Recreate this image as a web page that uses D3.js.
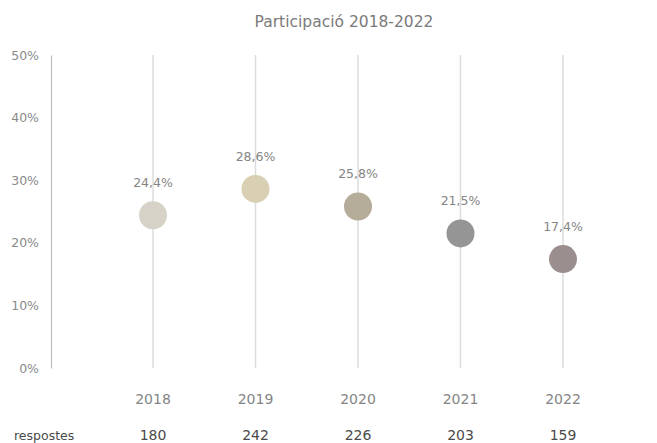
<!DOCTYPE html>
<html>
<head>
<meta charset="utf-8">
<script src="https://cdn.jsdelivr.net/npm/d3@7"></script>
<style>
  html, body { margin: 0; padding: 0; background: #fff; }
  svg { display: block; font-family: "DejaVu Sans", sans-serif; }
</style>
</head>
<body>
<svg id="chart" width="657" height="443"></svg>
<script>
const years = ["2018", "2019", "2020", "2021", "2022"];
const values = [24.4, 28.6, 25.8, 21.5, 17.4];
const labels = ["24,4%", "28,6%", "25,8%", "21,5%", "17,4%"];
const responses = [180, 242, 226, 203, 159];
const yTicks = [0, 10, 20, 30, 40, 50];
const colors = ["#d6d2c8", "#d9d0b4", "#b5ad9a", "#959595", "#9a8e8e"];

const svg = d3.select("#chart");
const FONT = "'DejaVu Sans', sans-serif";
const yTop = 55, yBot = 368;

const x = d3.scalePoint().domain(years).range([153, 563]);
const y = d3.scaleLinear().domain([0, 50]).range([yBot, yTop]);

// title
svg.append("text")
  .attr("x", 344).attr("y", 27)
  .attr("text-anchor", "middle")
  .attr("font-size", 15.5).attr("fill", "#7a7a7a")
  .text("Participació 2018-2022");

// y axis
const yAxis = d3.axisLeft(y).tickValues(yTicks).tickSize(0).tickPadding(12)
  .tickFormat(d => d + "%");
const gy = svg.append("g").attr("transform", "translate(51,0)").call(yAxis);
gy.select(".domain").attr("stroke", "#bdbdbd").attr("stroke-width", 1.2);
gy.selectAll("text").attr("font-size", 12.5).attr("fill", "#8a8a8a")
  .attr("font-family", FONT);

// vertical lines
svg.append("g").selectAll("line").data(years).join("line")
  .attr("x1", d => x(d)).attr("x2", d => x(d))
  .attr("y1", yTop).attr("y2", yBot)
  .attr("stroke", "#dcdcdc").attr("stroke-width", 1.5);

// points
svg.append("g").selectAll("circle").data(years).join("circle")
  .attr("cx", d => x(d))
  .attr("cy", (d, i) => y(values[i]))
  .attr("r", 14)
  .attr("fill", (d, i) => colors[i]);

// value labels
svg.append("g").selectAll("text").data(years).join("text")
  .attr("x", d => x(d))
  .attr("y", (d, i) => y(values[i]) - 28)
  .attr("text-anchor", "middle")
  .attr("font-size", 12.5).attr("fill", "#858585")
  .text((d, i) => labels[i]);

// x labels
svg.append("g").selectAll("text").data(years).join("text")
  .attr("x", d => x(d)).attr("y", 404)
  .attr("text-anchor", "middle")
  .attr("font-size", 14).attr("fill", "#858585")
  .text(d => d);

// responses row
svg.append("text")
  .attr("x", 14).attr("y", 440)
  .attr("font-size", 12.5).attr("fill", "#4a4a4a")
  .text("respostes");
svg.append("g").selectAll("text").data(years).join("text")
  .attr("x", d => x(d)).attr("y", 440)
  .attr("text-anchor", "middle")
  .attr("font-size", 14).attr("fill", "#4a4a4a")
  .text((d, i) => responses[i]);
</script>
</body>
</html>
